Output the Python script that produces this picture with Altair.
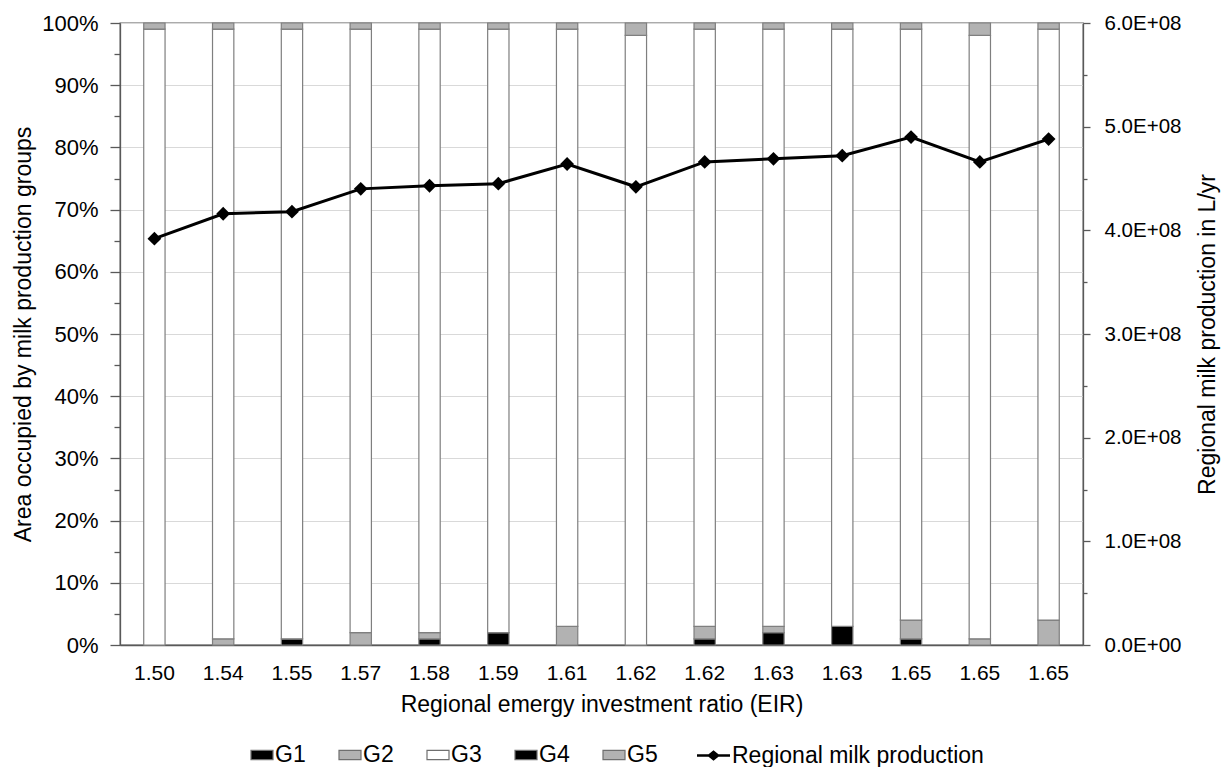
import altair as alt
import pandas as pd

# Regional EIR of each scenario (labels repeat, so bars are keyed by position)
eir_labels = ["1.50", "1.54", "1.55", "1.57", "1.58", "1.59", "1.61",
              "1.62", "1.62", "1.63", "1.63", "1.65", "1.65", "1.65"]

# Share of area (%) occupied by each milk production group
g1 = [0, 0, 1, 0, 1, 2, 0, 0, 1, 2, 3, 1, 0, 0]
g2 = [0, 1, 0, 2, 1, 0, 3, 0, 2, 1, 0, 3, 1, 4]
g3 = [99, 98, 98, 97, 97, 97, 96, 98, 96, 96, 96, 95, 97, 95]
g4 = [0, 0, 0, 0, 0, 0, 0, 0, 0, 0, 0, 0, 0, 0]
g5 = [1, 1, 1, 1, 1, 1, 1, 2, 1, 1, 1, 1, 2, 1]

# Regional milk production (L/yr)
milk = [3.92e8, 4.16e8, 4.18e8, 4.40e8, 4.43e8, 4.45e8, 4.64e8,
        4.42e8, 4.66e8, 4.69e8, 4.72e8, 4.90e8, 4.66e8, 4.88e8]

groups = ["G1", "G2", "G3", "G4", "G5"]
group_colors = ["#000000", "#b2b2b2", "#ffffff", "#000000", "#b2b2b2"]
series_name = "Regional milk production"

FONT = "Liberation Sans"

rows = []
for gi, (g, vals) in enumerate(zip(groups, [g1, g2, g3, g4, g5])):
    for i, v in enumerate(vals):
        rows.append({"slot": i, "group": g, "gorder": gi, "share": v})
bars_df = pd.DataFrame(rows)

line_df = pd.DataFrame({"slot": list(range(len(milk))), "milk": milk,
                        "series": series_name})

label_array = "[" + ",".join("'" + s + "'" for s in eir_labels) + "]"

x_enc = alt.X(
    "slot:O",
    scale=alt.Scale(paddingInner=0.69, paddingOuter=0.345),
    axis=alt.Axis(
        title="Regional emergy investment ratio (EIR)",
        labelExpr=label_array + "[datum.value]",
        labelAngle=0,
        labelFontSize=21,
        ticks=False,
        labelPadding=17,
        titlePadding=10,
        grid=False,
    ),
)

rect_path = "M-1,-0.42H1V0.42H-1Z"
line_diamond_path = ("M-1,-0.07H-0.3L0,-0.32L0.3,-0.07H1V0.07H0.3L0,0.32"
                     "L-0.3,0.07H-1Z")

is_major_pct = "datum.value % 10 === 0"
bars = alt.Chart(bars_df).mark_bar(stroke="#7f7f7f", strokeWidth=1.2).encode(
    x=x_enc,
    y=alt.Y(
        "share:Q",
        stack="zero",
        scale=alt.Scale(domain=[0, 100], nice=False),
        axis=alt.Axis(
            title="Area occupied by milk production groups",
            values=list(range(0, 101, 5)),
            labelExpr=is_major_pct + " ? datum.value + '%' : ''",
            labelFontSize=22,
            tickSize={"condition": {"test": is_major_pct, "value": 10}, "value": 6},
            gridOpacity={"condition": {"test": is_major_pct, "value": 1}, "value": 0},
            grid=True,
            gridColor="#d9d9d9",
            labelPadding=12,
            titleAngle=270,
            titleBaseline="middle",
            titleAlign="center",
            titleX=-97,
            titleY=311,
        ),
    ),
    fill=alt.Fill(
        "group:N",
        scale=alt.Scale(domain=groups, range=group_colors),
        legend=alt.Legend(
            title=None,
            orient="none",
            legendX=130,
            legendY=720,
            direction="horizontal",
            symbolType=rect_path,
            symbolSize=484,
            symbolStrokeColor="#6f6f6f",
            symbolStrokeWidth=1.2,
            labelFontSize=23,
            labelFont=FONT,
            labelColor="#000000",
            labelOffset=1,
            columnPadding=30,
            padding=0,
        ),
    ),
    order=alt.Order("gorder:Q", sort="ascending"),
)

is_major_milk = "datum.value % 100000000 === 0"
milk_y = alt.Y(
    "milk:Q",
    scale=alt.Scale(domain=[0, 6e8], nice=False),
    axis=alt.Axis(
        orient="right",
        title="Regional milk production in L/yr",
        values=[k * 5e7 for k in range(13)],
        labelExpr=(is_major_milk + " ? (datum.value === 0 ? '0.0E+00' : "
                   "format(datum.value / 1e8, '.1f') + 'E+08') : ''"),
        labelFontSize=20.5,
        tickSize={"condition": {"test": is_major_milk, "value": 7}, "value": 4},
        grid=False,
        labelPadding=14,
        titleAngle=270,
        titleBaseline="middle",
        titleAlign="center",
        titleX=124,
        titleY=311,
    ),
)

line = alt.Chart(line_df).mark_line(color="#000000", strokeWidth=3).encode(
    x=alt.X("slot:O"),
    y=milk_y,
)

points = alt.Chart(line_df).mark_point(
    shape="diamond", filled=True, size=190, opacity=1
).encode(
    x=alt.X("slot:O"),
    y=alt.Y("milk:Q"),
    color=alt.Color(
        "series:N",
        scale=alt.Scale(domain=[series_name], range=["#000000"]),
        legend=alt.Legend(
            title=None,
            orient="none",
            legendX=576,
            legendY=715,
            direction="horizontal",
            symbolType=line_diamond_path,
            symbolSize=1089,
            symbolFillColor="#000000",
            labelFontSize=23,
            labelFont=FONT,
            labelColor="#000000",
            labelOffset=1,
            padding=0,
            labelLimit=0,
        ),
    ),
)

chart = (
    alt.layer(bars, alt.layer(line, points))
    .resolve_scale(y="independent", color="independent")
    .properties(
        width=963,
        height=622,
        autosize=alt.AutoSizeParams(type="none"),
        padding={"left": 120, "top": 23, "right": 142, "bottom": 122},
        background="#ffffff",
    )
    .configure_view(stroke="#595959", strokeWidth=1.3)
    .configure_axis(
        labelFont=FONT,
        titleFont=FONT,
        labelFontSize=21,
        titleFontSize=23,
        titleFontWeight="normal",
        labelColor="#000000",
        titleColor="#000000",
        domainColor="#595959",
        domainWidth=1.3,
        tickColor="#595959",
        tickWidth=1.3,
    )
)

chart.save("out.html", embed_options={"renderer": "svg", "actions": False})
